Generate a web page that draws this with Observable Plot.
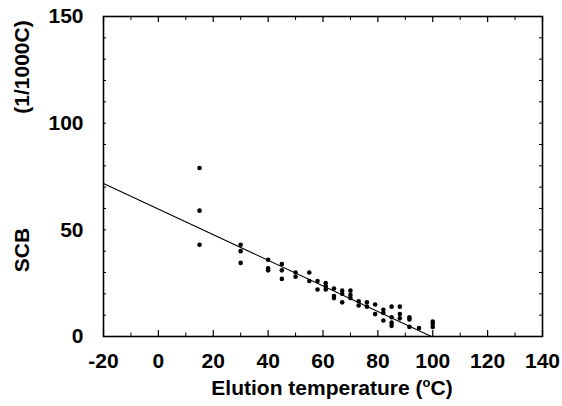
<!DOCTYPE html>
<html><head><meta charset="utf-8">
<script src="https://cdn.jsdelivr.net/npm/d3@7"></script>
<script src="https://cdn.jsdelivr.net/npm/@observablehq/plot@0.6"></script>
<style>
body{margin:0;background:#fff}
svg{font-family:"Liberation Sans",Arial,Helvetica,sans-serif}
</style>
</head><body><div id="chart"></div>
<script>
// Elution temperature (°C)
const temps = [15,15,15, 30,30,30, 40,40,40, 45,45,45, 50,50, 55,55, 58,58, 61,61,61,
  64,64,64, 67,67,67, 70,70,70, 73,73, 76,76, 79,79, 82,82,82, 85,85,85,85, 88,88,88,
  91.5,91.5,91.5, 95, 100,100,100];
// SCB (1/1000C)
const scb = [79,59,43, 43,40,34.5, 36,32,31, 34,31,27, 30,28, 30,26, 26,22, 25,23.5,22,
  22.5,19,18, 21.5,20,16, 21.5,19.5,18, 16.5,14.5, 16,14, 15,10.5, 12.5,11,7.5, 14,9,6.5,5, 14,10.5,8.5,
  9,8,4.5, 4, 7,6,4.5];
// regression line end points
const fitX = [-20, 99.5];
const fitY = [71.7, 0];
const xMajor = [-20,0,20,40,60,80,100,120,140];
const xMinor = [-10,10,30,50,70,90,110,130];
const yMajor = [0,50,100,150];
const yMinor = [10,20,30,40,60,70,80,90,110,120,130,140];

const pts = temps.map((t,i)=>({t, s: scb[i]}));
const fit = fitX.map((x,i)=>({x, y: fitY[i]}));

const W = 562, H = 406, ML = 103, MR = 20, MT = 16, MB = 70;
const fw = W - ML - MR, fh = H - MT - MB;
const fmt = d => String(d);

const plot = Plot.plot({
  width: W, height: H,
  marginLeft: ML, marginRight: MR, marginTop: MT, marginBottom: MB,
  style: {background:"#fff", color:"#000", fontFamily:"'Liberation Sans',Arial,sans-serif"},
  x: {domain:[-20,140], label:null},
  y: {domain:[0,150], label:null},
  marks: [
    // inward ticks on all four sides
    Plot.ruleX(xMajor, {x: d=>d, insetTop: fh-6, stroke:"#000", strokeWidth:1.2}),
    Plot.ruleX(xMinor, {x: d=>d, insetTop: fh-3.5, stroke:"#000", strokeWidth:1}),
    Plot.ruleX(xMajor, {x: d=>d, insetBottom: fh-6, stroke:"#000", strokeWidth:1.2}),
    Plot.ruleX(xMinor, {x: d=>d, insetBottom: fh-4, stroke:"#000", strokeWidth:1}),
    Plot.ruleY(yMajor.concat(yMinor), {y: d=>d, insetRight: fw-3, stroke:"#000", strokeWidth:1}),
    Plot.ruleY(yMajor.concat(yMinor), {y: d=>d, insetLeft: fw-3, stroke:"#000", strokeWidth:1}),
    Plot.axisX(xMajor, {anchor:"bottom", tickSize:0, tickPadding:17, fontSize:21, fontWeight:"bold", tickFormat: fmt, label:null}),
    Plot.axisY(yMajor, {anchor:"left", tickSize:0, tickPadding:20, fontSize:21, fontWeight:"bold", tickFormat: fmt, label:null}),
    Plot.frame({stroke:"#000", strokeWidth:1.6}),
    Plot.line(fit, {x:"x", y:"y", stroke:"#000", strokeWidth:1.1}),
    Plot.dot(pts, {x:"t", y:"s", r:2.3, fill:"#000", stroke:"none"})
  ]
});
document.getElementById("chart").appendChild(plot);

const svg = d3.select(plot);
const xt = svg.append("text")
  .attr("x", 332).attr("y", 395)
  .attr("text-anchor","middle")
  .attr("font-size", 21).attr("font-weight","bold").attr("fill","#000");
xt.append("tspan").text("Elution temperature (");
xt.append("tspan").text("o").attr("font-size", 13).attr("dy", -8);
xt.append("tspan").text("C)").attr("dy", 8);

svg.append("text")
  .attr("transform","translate(29,250) rotate(-90)")
  .attr("text-anchor","middle")
  .attr("font-size", 21).attr("font-weight","bold").attr("fill","#000")
  .text("SCB");
svg.append("text")
  .attr("transform","translate(29,67) rotate(-90)")
  .attr("text-anchor","middle")
  .attr("font-size", 21).attr("font-weight","bold").attr("fill","#000")
  .text("(1/1000C)");
</script>
</body></html>
